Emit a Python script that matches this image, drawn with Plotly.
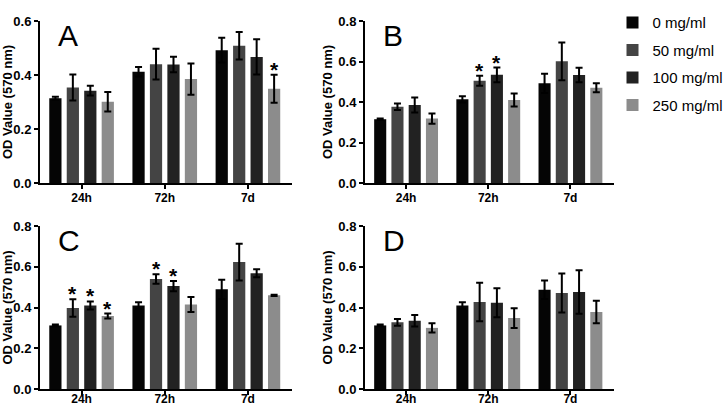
import plotly.graph_objects as go

categories = ["24h", "72h", "7d"]
doses = ["0 mg/ml", "50 mg/ml", "100 mg/ml", "250 mg/ml"]
colors = ["#050505", "#444444", "#222222", "#8c8c8c"]

# panel A
A_vals = [[0.314, 0.412, 0.492], [0.354, 0.440, 0.508], [0.342, 0.439, 0.467], [0.301, 0.385, 0.349]]
A_errs = [[0.005, 0.018, 0.046], [0.048, 0.057, 0.051], [0.018, 0.029, 0.065], [0.036, 0.058, 0.052]]
A_stars = [(2, 3)]
# panel B
B_vals = [[0.315, 0.413, 0.492], [0.376, 0.505, 0.601], [0.385, 0.534, 0.533], [0.318, 0.410, 0.470]]
B_errs = [[0.004, 0.016, 0.047], [0.016, 0.025, 0.093], [0.037, 0.036, 0.036], [0.025, 0.032, 0.022]]
B_stars = [(1, 1), (1, 2)]
# panel C
C_vals = [[0.312, 0.410, 0.489], [0.397, 0.540, 0.623], [0.410, 0.505, 0.568], [0.358, 0.415, 0.460]]
C_errs = [[0.004, 0.016, 0.047], [0.043, 0.023, 0.090], [0.020, 0.025, 0.020], [0.012, 0.037, 0.003]]
C_stars = [(0, 1), (0, 2), (0, 3), (1, 1), (1, 2)]
# panel D
D_vals = [[0.312, 0.410, 0.487], [0.327, 0.427, 0.471], [0.335, 0.423, 0.476], [0.300, 0.348, 0.378]]
D_errs = [[0.004, 0.016, 0.045], [0.017, 0.094, 0.096], [0.028, 0.071, 0.107], [0.023, 0.048, 0.055]]
D_stars = []

panels = [
    ("A", A_vals, A_errs, A_stars, 0.6, 1),
    ("B", B_vals, B_errs, B_stars, 0.8, 2),
    ("C", C_vals, C_errs, C_stars, 0.8, 3),
    ("D", D_vals, D_errs, D_stars, 0.8, 4),
]

W, H = 724, 410
xdom = {1: [40 / W, 292 / W], 2: [365 / W, 614 / W], 3: [40 / W, 292 / W], 4: [365 / W, 614 / W]}
ydom = {1: [(H - 183) / H, (H - 21) / H], 2: [(H - 183) / H, (H - 21) / H],
        3: [(H - 389) / H, (H - 226) / H], 4: [(H - 389) / H, (H - 226) / H]}

FONT = "Liberation Sans, Arial, sans-serif"
fig = go.Figure()
annotations = []
bargap = 0.16
slot = (1 - bargap) / 4

for letter, vals, errs, stars, ymax, k in panels:
    xa = "x" if k == 1 else f"x{k}"
    ya = "y" if k == 1 else f"y{k}"
    for i, d in enumerate(doses):
        fig.add_trace(go.Bar(
            x=categories, y=vals[i], name=d, marker_color=colors[i], marker_line_width=0,
            error_y=dict(type="data", array=errs[i], color="black", thickness=2, width=3.5),
            xaxis=xa, yaxis=ya, legendgroup=d, showlegend=(k == 1),
        ))
    for (g, i) in stars:
        xo = g + (-(1 - bargap) / 2 + slot * (i + 0.5))
        annotations.append(dict(x=xo, y=vals[i][g] + errs[i][g], xref=xa, yref=ya, text="<b>*</b>",
                                showarrow=False, yanchor="bottom", yshift=-8,
                                font=dict(size=21, color="black", family=FONT)))
    annotations.append(dict(x=-0.31, y=0.907 * ymax, xref=xa, yref=ya, text=letter, showarrow=False,
                            xanchor="left", yanchor="middle", yshift=1,
                            font=dict(size=30, color="black", family=FONT)))
    axis_common = dict(showline=True, linewidth=2, linecolor="black", ticks="outside", ticklen=4,
                       tickwidth=2, tickcolor="black", showgrid=False, zeroline=False, automargin=False)
    fig.layout[f"xaxis{'' if k == 1 else k}"] = dict(
        domain=xdom[k], anchor=ya, type="category", range=[-0.5, 2.53],
        ticklabelstandoff=(-1 if k <= 2 else -6),
        tickfont=dict(size=12, family=FONT, color="black", weight="bold"), **axis_common)
    fig.layout[f"yaxis{'' if k == 1 else k}"] = dict(
        domain=ydom[k], anchor=xa, range=[0, ymax], tickvals=[v / 10 for v in range(0, int(ymax * 10) + 1, 2)],
        tickformat=".1f", tickfont=dict(size=13, family=FONT, color="black", weight="bold"),
        title=dict(text="OD Value (570 nm)", font=dict(size=13, family=FONT, color="black", weight="bold"),
                   standoff=3), **axis_common)

fig.update_layout(
    width=W, height=H, margin=dict(l=0, r=0, t=0, b=0, autoexpand=False),
    barmode="group", bargap=bargap, bargroupgap=0.3,
    plot_bgcolor="white", paper_bgcolor="white",
    annotations=annotations,
    legend=dict(x=0.846, y=0.985, xanchor="left", yanchor="top", tracegroupgap=5,
                font=dict(size=15, family=FONT, color="black"), bgcolor="rgba(0,0,0,0)"),
    font=dict(family=FONT),
)
fig.write_html("out.html", config={"displayModeBar": False},
               post_script="document.body.style.margin='0px';document.body.style.overflow='hidden';")
